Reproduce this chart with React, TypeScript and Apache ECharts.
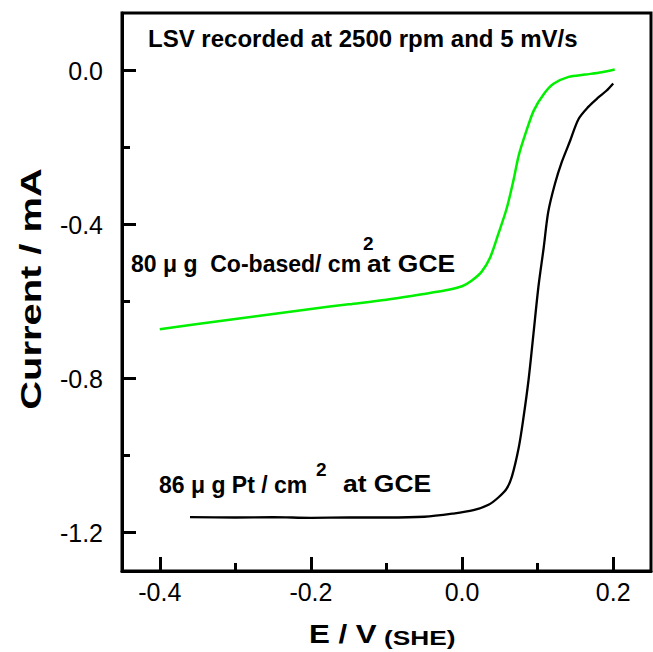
import React, { useEffect, useRef } from "react";
import * as echarts from "echarts";

// Co-based catalyst (green) : potential (V vs SHE) and current (mA)
const coPotential = [-0.4, -0.35, -0.3, -0.25, -0.2, -0.15, -0.1, -0.05, -0.02, 0.0, 0.013, 0.026, 0.037, 0.048, 0.059, 0.068, 0.075, 0.084, 0.095, 0.108, 0.121, 0.141, 0.163, 0.185, 0.202];
const coCurrent = [-0.672, -0.658, -0.645, -0.632, -0.619, -0.607, -0.595, -0.58, -0.57, -0.56, -0.545, -0.522, -0.486, -0.424, -0.358, -0.285, -0.22, -0.163, -0.103, -0.061, -0.034, -0.016, -0.01, -0.004, 0.003];

// Pt catalyst (black)
const ptPotential = [-0.36, -0.3, -0.25, -0.2, -0.15, -0.1, -0.05, -0.013, 0.015, 0.035, 0.048, 0.059, 0.066, 0.075, 0.081, 0.088, 0.0945, 0.101, 0.108, 0.114, 0.123, 0.132, 0.143, 0.154, 0.167, 0.18, 0.191, 0.2];
const ptCurrent = [-1.16, -1.161, -1.16, -1.162, -1.161, -1.161, -1.159, -1.151, -1.142, -1.128, -1.109, -1.086, -1.054, -0.979, -0.905, -0.803, -0.683, -0.562, -0.46, -0.367, -0.293, -0.237, -0.182, -0.126, -0.094, -0.07, -0.052, -0.033];

// axis ranges and tick labels
const xRange = [-0.45, 0.25];
const yRange = [-1.3, 0.15];
const xTickRange = [-0.4, 0.2]; // labels -0.4, -0.2, 0.0, 0.2
const xTickStep = 0.2;
const yTickRange = [-1.2, 0.0]; // labels -1.2, -0.8, -0.4, 0.0
const yTickStep = 0.4;

const FONT = '"Liberation Sans", Arial, Helvetica, sans-serif';

export default function App() {
  const ref = useRef<HTMLDivElement>(null);
  useEffect(() => {
    if (!ref.current) return;
    const chart = echarts.init(ref.current, undefined, { renderer: "svg" });
    const W = 653, H = 652;
    const plot = { left: 122, top: 13, right: 2, bottom: 81 };
    const plotW = W - plot.left - plot.right;
    const plotH = H - plot.top - plot.bottom;
    const plotBottom = plot.top + plotH;
    const xpx = (v: number) => plot.left + ((v - xRange[0]) / (xRange[1] - xRange[0])) * plotW;
    const ypx = (v: number) => plot.top + ((yRange[1] - v) / (yRange[1] - yRange[0])) * plotH;
    const MAJOR = 14, MINOR = 8;

    const fmt = (v: number) => (Math.abs(v) < 1e-9 ? "0.0" : v.toFixed(1));
    const labelStyle = { color: "#000", fontSize: 25, fontFamily: FONT };
    const tickLine = { color: "#000", width: 3 };
    const hidden = (gridIndex: number) => ({ gridIndex, type: "value", show: false, min: 0, max: 1 });
    const boldText = (text: string, x: number, y: number, size: number, scaleX = 1) => ({
      type: "text", x, y, scaleX,
      style: { text, fill: "#000", font: `bold ${size}px ${FONT}`, textVerticalAlign: "middle" },
    });

    const yTickGrid = (width: number) => ({
      left: plot.left, width, top: ypx(yTickRange[1]), height: ypx(yTickRange[0]) - ypx(yTickRange[1]), show: false,
    });
    const xTickGrid = (height: number) => ({
      left: xpx(xTickRange[0]), width: xpx(xTickRange[1]) - xpx(xTickRange[0]), top: plotBottom - height, height, show: false,
    });

    chart.setOption({
      animation: false,
      backgroundColor: "#fff",
      grid: [
        { ...plot, show: true, borderColor: "#000", borderWidth: 3 },
        yTickGrid(MAJOR),
        yTickGrid(MINOR),
        xTickGrid(MAJOR),
        xTickGrid(MINOR),
      ],
      xAxis: [
        {
          gridIndex: 0, type: "value", min: xRange[0], max: xRange[1], position: "bottom",
          axisLine: { show: true, onZero: false, lineStyle: { color: "#000", width: 3 } },
          axisTick: { show: false }, axisLabel: { show: false }, splitLine: { show: false },
        },
        hidden(1),
        hidden(2),
        {
          gridIndex: 3, type: "value", min: xTickRange[0], max: xTickRange[1], interval: xTickStep, position: "bottom",
          axisLine: { show: false, onZero: false }, axisTick: { show: false },
          axisLabel: { show: true, margin: 8, formatter: fmt, ...labelStyle },
          splitLine: { show: true, lineStyle: tickLine },
        },
        {
          gridIndex: 4, type: "value", min: xTickRange[0], max: xTickRange[1], interval: xTickStep, position: "bottom",
          axisLine: { show: false, onZero: false }, axisTick: { show: false }, axisLabel: { show: false },
          splitLine: { show: false },
          minorTick: { show: false, splitNumber: 2 },
          minorSplitLine: { show: true, lineStyle: tickLine },
        },
      ],
      yAxis: [
        {
          gridIndex: 0, type: "value", min: yRange[0], max: yRange[1], position: "left",
          axisLine: { show: true, onZero: false, lineStyle: { color: "#000", width: 3 } },
          axisTick: { show: false }, axisLabel: { show: false }, splitLine: { show: false },
        },
        {
          gridIndex: 1, type: "value", min: yTickRange[0], max: yTickRange[1], interval: yTickStep, position: "left",
          axisLine: { show: false, onZero: false }, axisTick: { show: false },
          axisLabel: { show: true, margin: 19, formatter: fmt, ...labelStyle },
          splitLine: { show: true, lineStyle: tickLine },
        },
        {
          gridIndex: 2, type: "value", min: yTickRange[0], max: yTickRange[1], interval: yTickStep, position: "left",
          axisLine: { show: false, onZero: false }, axisTick: { show: false }, axisLabel: { show: false },
          splitLine: { show: false },
          minorTick: { show: false, splitNumber: 2 },
          minorSplitLine: { show: true, lineStyle: tickLine },
        },
        hidden(3),
        hidden(4),
      ],
      series: [
        {
          name: "Co-based", type: "line", xAxisIndex: 0, yAxisIndex: 0, showSymbol: false, smooth: 0.3,
          data: coPotential.map((x, i) => [x, coCurrent[i]]),
          lineStyle: { color: "#00f000", width: 2.5 },
        },
        {
          name: "Pt", type: "line", xAxisIndex: 0, yAxisIndex: 0, showSymbol: false, smooth: 0.3,
          data: ptPotential.map((x, i) => [x, ptCurrent[i]]),
          lineStyle: { color: "#000", width: 2.3 },
        },
      ],
      graphic: [
        boldText("LSV recorded at 2500 rpm and 5 mV/s", 148, 38.5, 24),
        boldText("80 μ g  Co-based/ cm", 131, 264, 23),
        boldText("2", 363, 243.5, 19),
        boldText("at GCE", 367, 264, 23, 1.15),
        boldText("86 μ g Pt / cm", 159, 484.5, 23),
        boldText("2", 316, 469.5, 19),
        boldText("at GCE", 343, 484.5, 23, 1.15),
        boldText("E / V", 309, 634, 25, 1.25),
        boldText("(SHE)", 384, 637, 21, 1.25),
        {
          type: "text", x: 30, y: 289, rotation: Math.PI / 2, scaleX: 1.33,
          style: { text: "Current / mA", fill: "#000", font: `bold 30px ${FONT}`, textAlign: "center", textVerticalAlign: "middle" },
        },
      ],
    });
    return () => chart.dispose();
  }, []);
  return <div ref={ref} style={{ position: "fixed", left: 0, top: 0, width: 653, height: 652, background: "#fff" }} />;
}
